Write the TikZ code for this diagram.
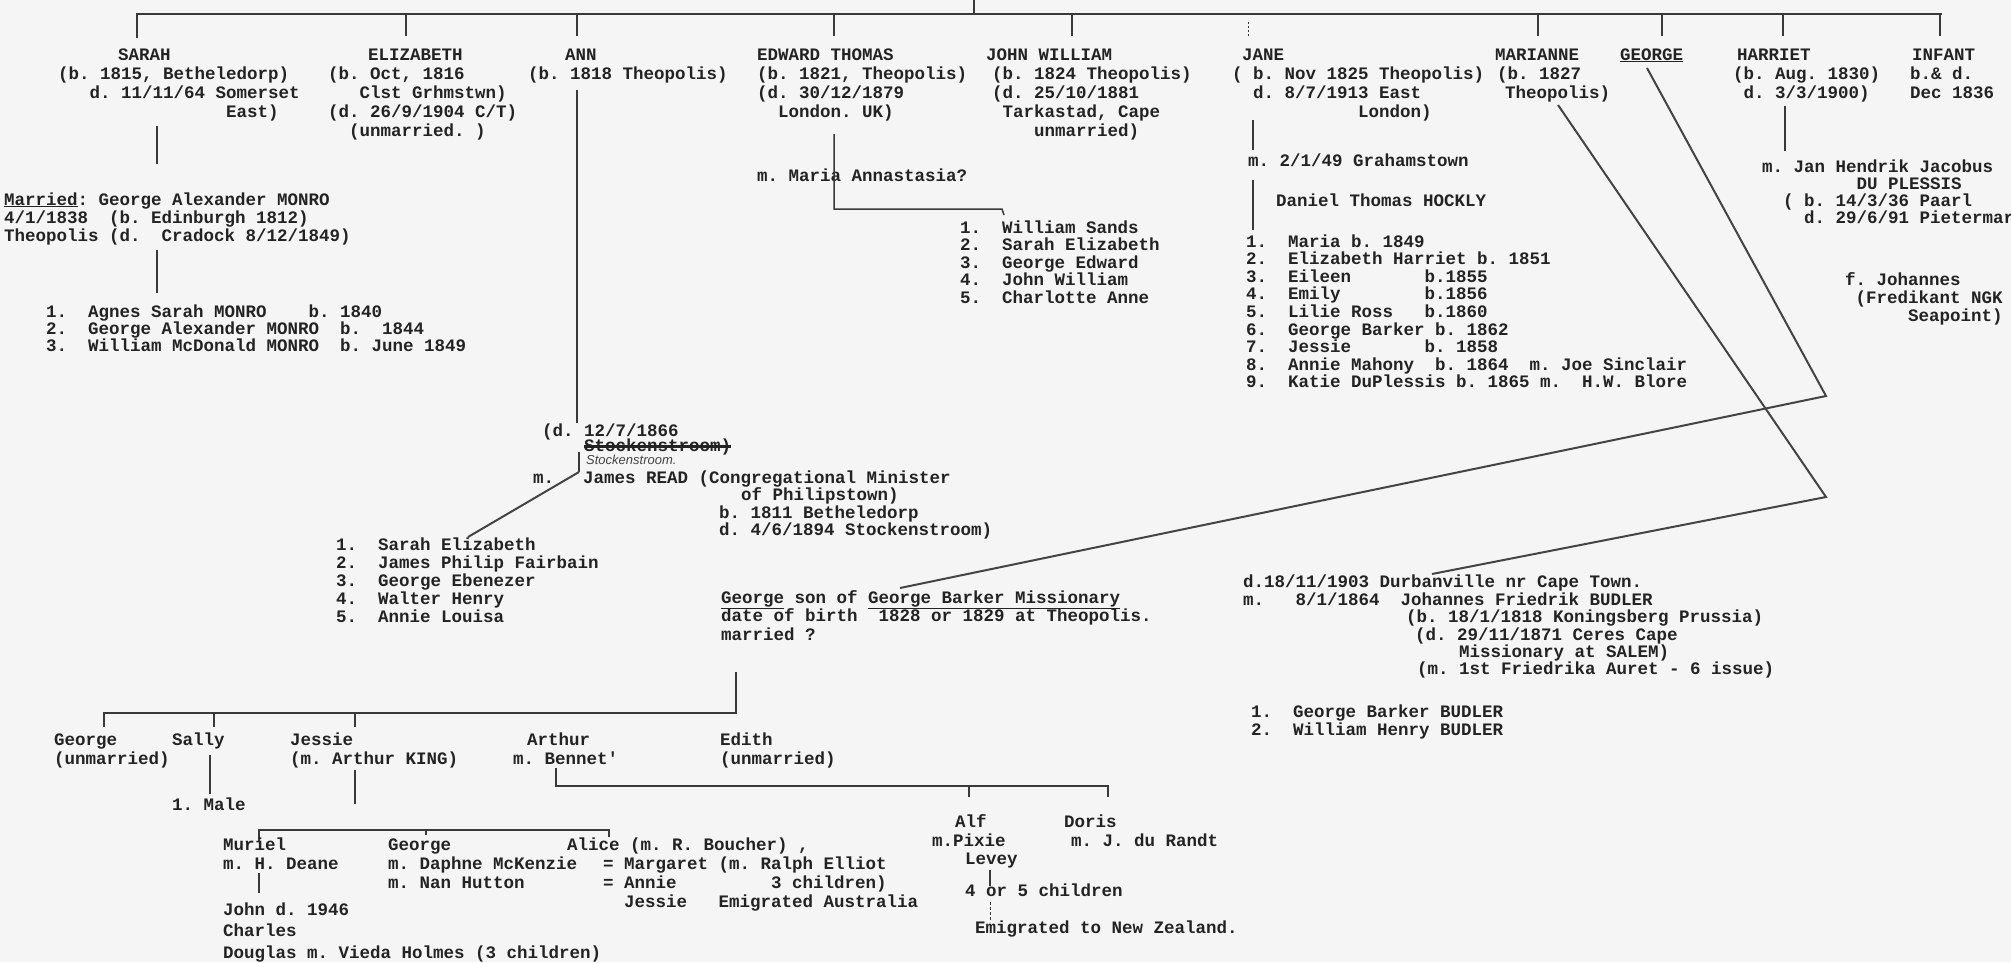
\documentclass[tikz,border=0pt]{standalone}
\usepackage{fontspec}
\newfontfamily\tw{Liberation Mono}
\newfontfamily\hw{Liberation Sans}
\definecolor{ink}{RGB}{35,35,35}
\definecolor{paper}{RGB}{245,245,245}
\tikzset{
  txt/.style={anchor=base west, inner sep=0pt, text=ink, font=\tw\bfseries\fontsize{17.5}{18}\selectfont\frenchspacing},
  hand/.style={anchor=base west, inner sep=0pt, text=ink!85, font=\hw\itshape\fontsize{13}{14}\selectfont},
  conn/.style={draw=ink!90, line width=1.5pt},
  diag/.style={draw=ink!85, line width=2pt},
}
\newcommand\block[5]{\foreach \t [count=\i from 0] in {#5}{\node[txt] (#1\i) at (#2,{#3+\i*#4}) {\t};}}
\begin{document}
\frenchspacing
\begin{tikzpicture}[x=1pt,y=-1pt]
\useasboundingbox (0,0) rectangle (2011,962);
\fill[paper] (0,0) rectangle (2011,962);
\clip (0,0) rectangle (2011,962);

% ---------- top generation ----------
\coordinate (barL) at (137,14);
\coordinate (barR) at (1942,14);
\draw[conn] (137,38) -- (barL) -- (barR);
\foreach \x in {406,577,834,1072,1538,1662,1783,1940} \draw[conn] (\x,14) -- (\x,36);
\draw[conn] (974,0) -- (974,14);
\draw[conn, line width=1pt, dash pattern=on 2pt off 2pt] (1248,22) -- (1248,36);

\node[txt] (sarah) at (118,60) {SARAH};
\node[txt] (eliz) at (368,60) {ELIZABETH};
\node[txt] (ann) at (565,60) {ANN};
\node[txt] (edw) at (757,60) {EDWARD THOMAS};
\node[txt] (john) at (986,60) {JOHN WILLIAM};
\node[txt] (jane) at (1242,60) {JANE};
\node[txt] (mari) at (1495,60) {MARIANNE};
\node[txt] (geo) at (1620,60) {\underline{GEORGE}};
\node[txt] (harr) at (1737,60) {HARRIET};
\node[txt] (inf) at (1912,60) {INFANT};

\block{sarahi}{58}{79}{19}{{(b. 1815, Betheledorp)},{~~~d. 11/11/64 Somerset},{~~~~~~~~~~~~~~~~East)}}
\block{elizi}{328}{79}{19}{{(b. Oct, 1816},{~~~Clst Grhmstwn)},{(d. 26/9/1904 C/T)},{~~(unmarried. )}}
\node[txt] (anni) at (528,79) {(b. 1818 Theopolis)};
\block{edwi}{757}{79}{19}{{(b. 1821, Theopolis)},{(d. 30/12/1879},{~~London. UK)}}
\block{johni}{992}{79}{19}{{(b. 1824 Theopolis)},{(d. 25/10/1881},{~Tarkastad, Cape},{~~~~unmarried)}}
\block{janei}{1232}{79}{19}{{( b. Nov 1825 Theopolis)},{~~d. 8/7/1913 East},{~~~~~~~~~~~~London)}}
\node[txt] (marib) at (1497,79) {(b. 1827};
\node[txt] (marit) at (1505,98) {Theopolis)};
\block{harri}{1733}{79}{19}{{(b. Aug. 1830)},{~d. 3/3/1900)}}
\block{infi}{1910}{79}{19}{{b.\& d.},{Dec 1836}}

% ---------- Sarah / Monro ----------
\draw[conn] (157,126) -- (157,164);
\block{marr}{4}{205}{18}{{\underline{Married}: George Alexander MONRO},{4/1/1838~~(b. Edinburgh 1812)},{Theopolis (d.~~Cradock 8/12/1849)}}
\draw[conn] (157,250) -- (157,293);
\block{monro}{46}{317}{17}{{1.~~Agnes Sarah MONRO~~~~b.~1840},{2.~~George Alexander MONRO~~b.~~1844},{3.~~William McDonald MONRO~~b.~June 1849}}

% ---------- Edward Thomas ----------
\node[txt] (edwm) at (757,181) {m. Maria Annastasia?};
\draw[conn] (834,134) -- (834,209) -- (1002,209) -- (1004,215);
\block{edwk}{960}{233}{17.5}{{1.~~William Sands},{2.~~Sarah Elizabeth},{3.~~George Edward},{4.~~John William},{5.~~Charlotte Anne}}

% ---------- Jane ----------
\draw[conn] (1253,120) -- (1253,150);
\node[txt] (janem) at (1248,166) {m. 2/1/49 Grahamstown};
\draw[conn] (1253,180) -- (1253,230);
\node[txt] (janed) at (1276,206) {Daniel Thomas HOCKLY};
\block{janek}{1246}{247}{17.6}{{1.~~Maria~b.~1849},{2.~~Elizabeth Harriet b. 1851},{3.~~Eileen~~~~~~~b.1855},{4.~~Emily~~~~~~~~b.1856},{5.~~Lilie Ross~~~b.1860},{6.~~George Barker b. 1862},{7.~~Jessie~~~~~~~b. 1858},{8.~~Annie Mahony~~b. 1864~~m. Joe Sinclair},{9.~~Katie DuPlessis b. 1865 m.~~H.W. Blore}}

% ---------- Harriet ----------
\draw[conn] (1785,106) -- (1785,151);
\block{harrm}{1762}{172}{17.3}{{m. Jan Hendrik Jacobus},{~~~~~~~~~DU PLESSIS},{~~( b. 14/3/36 Paarl},{~~~~d. 29/6/91 Pietermaritz}}
\block{johan}{1845}{285}{18}{{f. Johannes},{~(Fredikant NGK},{~~~~~~Seapoint)}}

% ---------- Ann / Read ----------
\draw[conn] (577,90) -- (577,423);
\node[txt] (annd) at (542,436) {(d. 12/7/1866};
\node[txt] (strike) at (584,451) {Stockenstroom)};
\draw[line width=3.5pt, ink] (strike.west) -- (strike.east);
\node[hand] (handw) at (586,464) {Stockenstroom.};
\coordinate (annbend) at (579,472);
\coordinate (readkids) at (468,537);
\draw[conn] (579,452) -- (annbend);
\draw[diag] (annbend) -- (readkids);
\node[txt] (annm) at (533,483) {m.};
\node[txt] (read) at (583,483) {James READ (Congregational Minister};
\node[txt] (read1) at (741,500) {of Philipstown)};
\node[txt] (read2) at (719,518) {b. 1811 Betheledorp};
\node[txt] (read3) at (719,535) {d. 4/6/1894 Stockenstroom)};
\block{readk}{336}{550}{18}{{1.~~Sarah Elizabeth},{2.~~James Philip Fairbain},{3.~~George Ebenezer},{4.~~Walter Henry},{5.~~Annie Louisa}}

% ---------- diagonal links ----------
\coordinate (mariS) at (1558,105);
\coordinate (mariV) at (1826,497);
\coordinate (mariE) at (1432,574);
\draw[diag] (mariS) -- (mariV) -- (mariE);
\coordinate (geoS) at (1647,68);
\coordinate (geoV) at (1826,396);
\coordinate (geoE) at (900,588);
\draw[diag] (geoS) -- (geoV) -- (geoE);

% ---------- Marianne / Budler ----------
\block{bud}{1243}{587}{18}{{d.18/11/1903 Durbanville nr Cape Town.},{m.~~~8/1/1864~~Johannes Friedrik BUDLER}}
\node[txt] (budb) at (1406,622) {(b. 18/1/1818 Koningsberg Prussia)};
\node[txt] (budd) at (1415,640) {(d. 29/11/1871 Ceres Cape};
\node[txt] (budm) at (1459,657) {Missionary at SALEM)};
\node[txt] (budf) at (1417,674) {(m. 1st Friedrika Auret - 6 issue)};
\block{budk}{1251}{717}{18}{{1.~~George Barker BUDLER},{2.~~William Henry BUDLER}}

% ---------- George (son) ----------
\node[txt] (gson) at (721,603) {\underline{George} son of \underline{George Barker Missionary}};
\node[txt] (gdob) at (721,621) {date of birth~~1828 or 1829 at Theopolis.};
\node[txt] (gmar) at (721,640) {married ?};
\draw[conn] (736,672) -- (736,713) -- (104,713) -- (104,727);
\draw[conn] (214,713) -- (214,727);
\draw[conn] (355,713) -- (355,727);

\node[txt] (cg) at (54,745) {George};
\node[txt] (cgu) at (54,764) {(unmarried)};
\node[txt] (cs) at (172,745) {Sally};
\node[txt] (csm) at (172,810) {1. Male};
\draw[conn] (210,755) -- (210,794);
\node[txt] (cj) at (290,745) {Jessie};
\node[txt] (cjm) at (290,764) {(m. Arthur KING)};
\draw[conn] (355,770) -- (355,804);
\node[txt] (ca) at (527,745) {Arthur};
\node[txt] (cam) at (513,764) {m. Bennet'};
\node[txt] (ce) at (720,745) {Edith};
\node[txt] (ceu) at (720,764) {(unmarried)};

% Arthur's children
\draw[conn] (556,768) -- (556,786) -- (1108,786) -- (1108,797);
\draw[conn] (969,786) -- (969,797);
\node[txt] (alf) at (955,827) {Alf};
\node[txt] (alfm) at (932,846) {m.Pixie};
\node[txt] (alfl) at (965,864) {Levey};
\node[txt] (doris) at (1064,827) {Doris};
\node[txt] (dorism) at (1071,846) {m. J. du Randt};
\draw[conn] (990,870) -- (990,886);
\node[txt] (alfk) at (965,896) {4 or 5 children};
\draw[conn, line width=1pt, dash pattern=on 3pt off 2pt] (990,902) -- (990,922);
\node[txt] (alfe) at (975,933) {Emigrated to New Zealand.};

% Jessie's children
\draw[conn] (259,841) -- (259,830) -- (609,830) -- (609,837);
\draw[conn] (426,830) -- (426,835);
\node[txt] (mur) at (223,850) {Muriel};
\node[txt] (murm) at (223,869) {m. H. Deane};
\draw[conn] (259,873) -- (259,893);
\block{murk}{223}{915}{21.5}{{John d. 1946},{Charles},{Douglas m. Vieda Holmes (3 children)}}
\node[txt] (jg) at (388,850) {George};
\node[txt] (jgm) at (388,869) {m. Daphne McKenzie};
\node[txt] (jgn) at (388,888) {m. Nan Hutton};
\node[txt] (alice) at (567,850) {Alice (m. R. Boucher) ,};
\node[txt] (al1) at (603,869) {=~Margaret~(m.~Ralph Elliot};
\node[txt] (al2) at (603,888) {=~Annie~~~~~~~~~3 children)};
\node[txt] (al3) at (603,907) {~~Jessie~~~Emigrated Australia};
\end{tikzpicture}
\end{document}
